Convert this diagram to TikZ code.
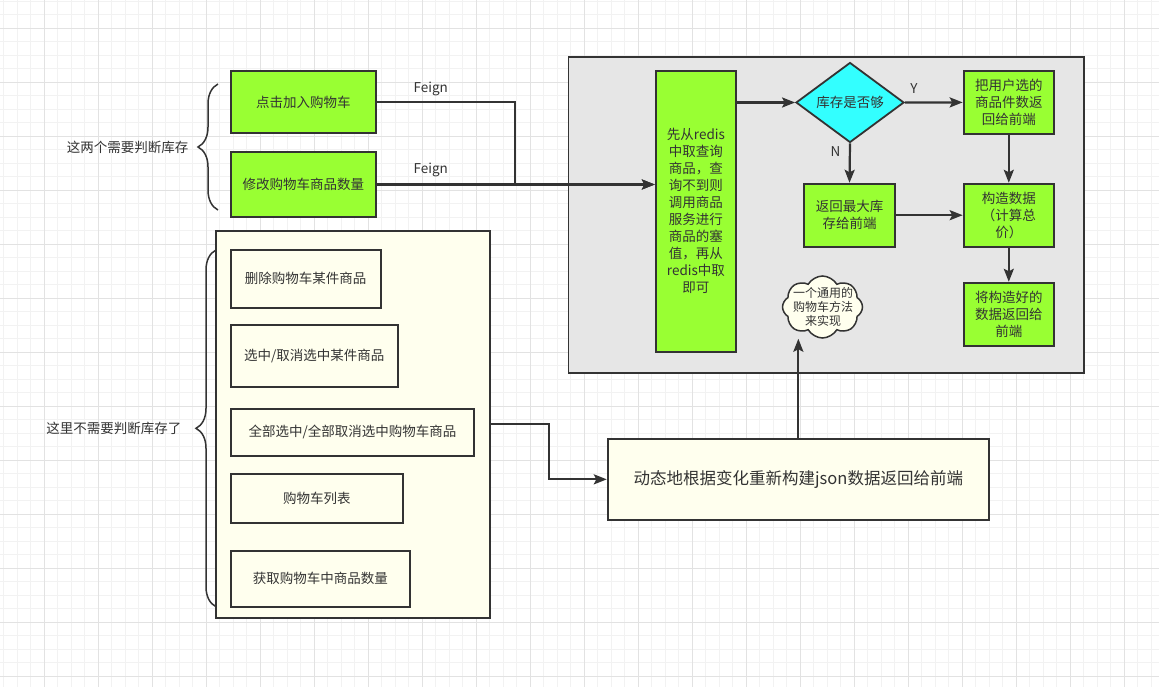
\documentclass[tikz,border=0pt]{standalone}
\usepackage{fontspec}
\setmainfont{Noto Sans CJK SC}
\usepackage{tikz}
\usetikzlibrary{arrows.meta,shapes.geometric,shapes.symbols,decorations.pathreplacing}
\definecolor{linec}{HTML}{333333}
\definecolor{limeg}{HTML}{99FF33}
\definecolor{cyanq}{HTML}{33FFFF}
\definecolor{paley}{HTML}{FFFFEE}
\definecolor{grayq}{HTML}{E6E6E6}
\definecolor{gridminor}{HTML}{F2F2F2}
\definecolor{gridmajor}{HTML}{E2E2E2}

\tikzset{
	box/.style={draw=linec, line width=1.8pt, text=linec, align=center, inner sep=0pt, font=\fontsize{13.5}{17}\selectfont},
	greenbox/.style={box, fill=limeg},
	notebox/.style={box, fill=paley},
	decision/.style={box, diamond, fill=cyanq},
	cloudy/.style={cloud, cloud puffs=8, cloud puff arc=120, draw=linec, line width=1.5pt, fill=paley, inner sep=0pt},
	lbl/.style={text=linec, inner sep=0pt, font=\fontsize{13.5}{17}\selectfont},
	flow/.style={draw=linec, line width=2.2pt, -{Stealth[length=13pt,width=10pt,inset=2.5pt]}},
	bracey/.style={draw=linec, line width=1.5pt, decorate, decoration={brace, amplitude=20pt}}
}

\begin{document}
\begin{tikzpicture}[x=1pt,y=-1pt]
	\fill[white] (0,0) rectangle (1159,687);
	\useasboundingbox (0,0) rectangle (1159,687);
	
	\foreach \i in {0,...,85} \draw[gridminor, line width=1pt] ({3.8+13.5*\i},0) -- ({3.8+13.5*\i},687);
	\foreach \j in {0,...,50} \draw[gridminor, line width=1pt] (0,{1.3+13.5*\j}) -- (1159,{1.3+13.5*\j});
	\foreach \i in {0,...,20} \draw[gridmajor, line width=1pt] ({44.3+54*\i},0) -- ({44.3+54*\i},687);
	\foreach \j in {0,...,12} \draw[gridmajor, line width=1pt] (0,{28.3+54*\j}) -- (1159,{28.3+54*\j});
	
	\node[box, fill=grayq, minimum width=515.5pt, minimum height=315.4pt] (v1) at (826.3,215) {};
	\node[notebox, minimum width=274.3pt, minimum height=387pt] (v12) at (352.9,424.2) {};
	
	\node[greenbox, minimum width=80.3pt, minimum height=281.3pt] (v2) at (695.9,211.3) {先从redis\\中取查询\\商品，查\\询不到则\\调用商品\\服务进行\\商品的塞\\值，再从\\redis中取\\即可};
	\node[decision, minimum width=108pt, minimum height=71.6pt] (v3) at (850,102.5) {库存是否够};
	\node[greenbox, minimum width=90.4pt, minimum height=63.3pt] (v4) at (1008.8,102.4) {把用户选的\\商品件数返\\回给前端};
	\node[greenbox, minimum width=91pt, minimum height=63pt] (v5) at (849.5,215.2) {返回最大库\\存给前端};
	\node[greenbox, minimum width=90.4pt, minimum height=63pt] (v6) at (1008.8,215.2) {构造数据\\（计算总\\价）};
	\node[greenbox, minimum width=90.4pt, minimum height=63pt] (v7) at (1008.8,314.2) {将构造好的\\数据返回给\\前端};
	\node[cloudy, minimum width=80pt, minimum height=62pt] (v8) at (822.5,307) {};
	\node[lbl, align=center, font=\fontsize{12}{14}\selectfont] (v9) at (823,307) {一个通用的\\购物车方法\\来实现};
	\node[lbl] (v19) at (914,89) {Y};
	\node[lbl] (v20) at (835.5,151.7) {N};
	
	\node[greenbox, minimum width=144.7pt, minimum height=62.6pt] (v10) at (303.3,102) {点击加入购物车};
	\node[greenbox, minimum width=144.7pt, minimum height=65.6pt] (v11) at (303.3,184.5) {修改购物车商品数量};
	\node[lbl] (v21) at (430.7,89.3) {Feign};
	\node[lbl] (v22) at (430.7,170) {Feign};
	\node[lbl] (v23) at (127.5,147) {这两个需要判断库存};
	
	\node[notebox, minimum width=150pt, minimum height=58pt] (v13) at (305.7,278.7) {删除购物车某件商品};
	\node[notebox, minimum width=167.3pt, minimum height=62.3pt] (v14) at (314.35,355.85) {选中/取消选中某件商品};
	\node[notebox, minimum width=243.6pt, minimum height=47pt] (v15) at (352.5,432.2) {全部选中/全部取消选中购物车商品};
	\node[notebox, minimum width=172.3pt, minimum height=49pt] (v16) at (316.85,498.2) {购物车列表};
	\node[notebox, minimum width=179.3pt, minimum height=55.7pt] (v17) at (320.35,578.85) {获取购物车中商品数量};
	\node[lbl] (v24) at (113.8,428) {这里不需要判断库存了};
	
	\node[notebox, minimum width=381.3pt, minimum height=80.7pt, font=\fontsize{16.5}{20}\selectfont] (v18) at (798.35,479.35) {动态地根据变化重新构建json数据返回给前端};
	
	\coordinate (v25) at (515.3,184.5);
	\coordinate (v26) at (548.7,424.2);
	\coordinate (v27) at (218,210);
	\coordinate (v28) at (218,84);
	\coordinate (v29) at (216,606.7);
	\coordinate (v30) at (216,250);
	
	\draw[flow] (v10.east) -| (v25) -- (v25 -| v2.west);
	\draw[flow] (v11.east) -- (v11.east -| v2.west);
	\draw[flow] (v2.east |- v3.west) -- (v3.west);
	\draw[flow] (v3.east) -- (v4.west);
	\draw[flow] (v3.south) -- (v5.north);
	\draw[flow] (v5.east) -- (v6.west);
	\draw[flow] (v4.south) -- (v6.north);
	\draw[flow] (v6.south) -- (v7.north);
	\draw[flow] (v12.east) -- (v26) |- (v18.west);
	\draw[flow] (v18.north) -- (v18.north |- v8.south);
	
	\draw[bracey] (v27) -- (v28);
	\draw[bracey] (v29) -- (v30);
\end{tikzpicture}
\end{document}
